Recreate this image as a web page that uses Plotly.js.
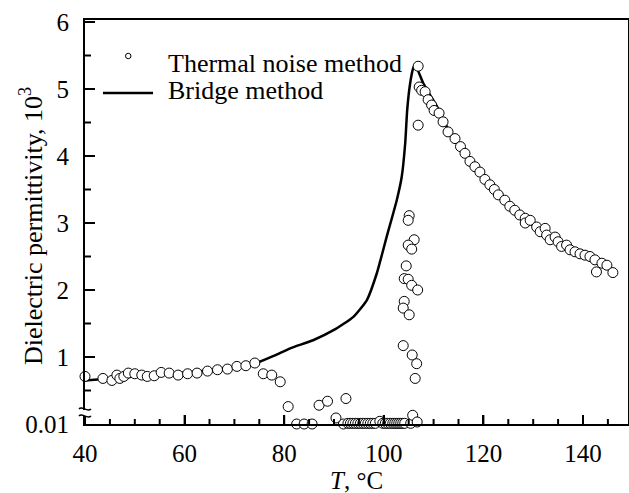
<!DOCTYPE html>
<html>
<head>
<meta charset="utf-8">
<script src="https://cdn.plot.ly/plotly-3.0.1.min.js"></script>
<style>
  html, body { margin: 0; padding: 0; background: #fff; }
  #chart { width: 629px; height: 493px; }
</style>
</head>
<body>
<div id="chart"></div>
<script>
// Bridge method: dielectric permittivity (x10^3) vs temperature, °C
const bridgeT = [40, 45, 50, 55, 60, 65, 70, 74, 78, 81.2, 85.8, 89.9, 93.9, 96.6, 98.6,
  100.6, 102.6, 103.6, 104.3, 104.7, 105.3, 105.9, 106.3, 107.9, 109.3, 110.9, 112, 114,
  116, 118, 120, 122, 124, 126, 128, 130, 132, 134, 136, 138, 140, 142, 144, 145.5];
const bridgeEps = [0.65, 0.68, 0.71, 0.74, 0.77, 0.80, 0.85, 0.90, 1.02, 1.13, 1.25, 1.40, 1.60, 1.85, 2.25,
  2.80, 3.34, 3.69, 4.19, 4.69, 5.09, 5.31, 5.36, 5.09, 4.91, 4.71, 4.53, 4.27,
  4.06, 3.86, 3.68, 3.51, 3.36, 3.21, 3.08, 2.96, 2.85, 2.76, 2.67, 2.58, 2.50, 2.42, 2.36, 2.30];

// Thermal noise method: measured points
const noiseT = [40, 43.6, 45.4, 46.4, 47.0, 47.8, 48.7, 50.0, 51.4, 52.5, 53.9, 55.3, 56.9, 58.7,
  60.6, 62.5, 64.6, 66.6, 68.6, 70.5, 72.3, 74.1, 75.8, 77.5, 79.2, 80.8, 82.5, 84.0, 85.6,
  87.0, 88.7, 90.4, 91.9, 92.4,
  92.8, 93.3, 93.8, 94.3, 94.8, 95.3, 95.8, 96.3, 96.8, 97.3, 97.8, 98.3, 99.2, 99.8, 100.3,
  100.8, 101.3, 101.8, 102.2, 102.6, 103.0, 103.4, 103.8, 104.2, 105.4, 105.8, 106.7,
  103.9, 105.7, 106.6, 106.3, 105.1, 104.9, 106.1, 104.9, 105.6, 104.5, 104.1, 104.9, 105.6,
  106.8, 104.1, 103.9, 105.1,
  106.9, 107.1, 107.6, 108.3, 108.9, 109.6, 110.1, 111.1, 111.9, 112.9, 106.9,
  114.3, 115.4, 116.3, 117.3, 118.3, 119.3, 120.3, 121.3, 122.2, 123.0, 124.3, 125.3, 126.3,
  127.3, 128.4, 128.4, 129.4, 130.7, 131.4, 132.4, 132.7, 133.4, 134.4, 135.0, 135.7, 136.7,
  137.4, 138.4, 139.4, 140.4, 141.4, 142.4, 142.7, 143.8, 144.8, 146.0];
const noiseEps = [0.71, 0.68, 0.65, 0.73, 0.68, 0.71, 0.76, 0.75, 0.73, 0.71, 0.72, 0.77, 0.76, 0.73,
  0.75, 0.76, 0.79, 0.81, 0.82, 0.86, 0.87, 0.91, 0.75, 0.73, 0.63, 0.26, 0.0, 0.0, 0.0,
  0.28, 0.34, 0.09, 0.0, 0.38,
  0.01, 0.01, 0.01, 0.01, 0.01, 0.01, 0.01, 0.01, 0.01, 0.01, 0.01, 0.01, 0.04, 0.01, 0.01,
  0.01, 0.01, 0.01, 0.01, 0.01, 0.01, 0.01, 0.01, 0.01, 0.01, 0.13, 0.03,
  1.17, 1.03, 0.90, 0.68, 3.11, 3.04, 2.75, 2.67, 2.61, 2.36, 2.17, 2.16, 2.07,
  2.00, 1.83, 1.73, 1.63,
  5.34, 5.03, 4.98, 4.96, 4.84, 4.76, 4.68, 4.64, 4.51, 4.36, 4.46,
  4.26, 4.14, 4.04, 3.92, 3.84, 3.76, 3.65, 3.57, 3.50, 3.42, 3.34, 3.25, 3.19,
  3.12, 3.07, 3.00, 3.04, 2.94, 2.87, 2.92, 2.82, 2.75, 2.79, 2.72, 2.65, 2.67,
  2.60, 2.57, 2.54, 2.52, 2.50, 2.45, 2.27, 2.40, 2.37, 2.26];

// Axis ticks
const yTickVals = [0, 1, 2, 3, 4, 5, 6];
const yTickText = ['0.01', '1', '2', '3', '4', '5', '6'];
const xTickVals = [40, 60, 80, 100, 120, 140];
const xMinorVals = [45, 50, 55, 65, 70, 75, 85, 90, 95, 105, 110, 115, 125, 130, 135, 145];
const yMinorVals = [0.5, 1.5, 2.5, 3.5, 4.5, 5.5];

// Titles and legend entries
const xTitle = '<i>T</i>, °C';
const yTitle = 'Dielectric permittivity, 10<sup>3</sup>';
const legendLabels = ['Thermal noise method', 'Bridge method'];

const W = 629, H = 493;
const M = { l: 85, r: 1, t: 20, b: 69 };
const PW = W - M.l - M.r, PH = H - M.t - M.b;
// pixel -> paper helpers for the hand-placed legend and titles
const px = x => (x - M.l) / PW;
const py = y => (H - M.b - y) / PH;

const serif = 'Liberation Serif, Times New Roman, serif';
const ink = '#000';
const pxPerT = 4.98, pxPerEps = 67;
const xRange = [40, 40 + PW / pxPerT];
const yRange = [0, PH / pxPerEps];

const traces = [
  {
    x: bridgeT, y: bridgeEps, type: 'scatter', mode: 'lines',
    line: { color: ink, width: 2.5, shape: 'spline', smoothing: 0.5 },
    hoverinfo: 'skip', showlegend: false
  },
  {
    x: noiseT, y: noiseEps, type: 'scatter', mode: 'markers', cliponaxis: false,
    marker: { symbol: 'circle', size: 10, color: '#fff', line: { color: ink, width: 1 } },
    showlegend: false
  }
];

// inward tick marks as line shapes: data position along the axis, pixel length across it
const tickShapes = [];
function xTick(v, lenPx) {
  tickShapes.push({ type: 'line', xref: 'x', yref: 'paper', ysizemode: 'pixel', yanchor: 0,
    x0: v, x1: v, y0: 0, y1: lenPx, line: { color: ink, width: 2 }, layer: 'above' });
}
function yTick(v, lenPx) {
  tickShapes.push({ type: 'line', xref: 'paper', yref: 'y', xsizemode: 'pixel', xanchor: 0,
    x0: 0, x1: lenPx, y0: v, y1: v, line: { color: ink, width: 2 }, layer: 'above' });
}
xTickVals.forEach(v => xTick(v, 9));
xMinorVals.forEach(v => xTick(v, 5));
yTickVals.filter(v => v > 0).forEach(v => yTick(v, 10));
yMinorVals.forEach(v => yTick(v, 6));

const layout = {
  width: W, height: H,
  margin: M,
  paper_bgcolor: '#fff', plot_bgcolor: '#fff',
  font: { family: serif, size: 25, color: ink },
  showlegend: false,
  xaxis: {
    range: xRange,
    tickmode: 'array', tickvals: xTickVals,
    ticks: 'inside', ticklen: 9, tickwidth: 2, tickcolor: ink,
    showline: true, linecolor: ink, linewidth: 2, mirror: true,
    showgrid: false, zeroline: false,
    ticklabelstandoff: 6,
    tickfont: { family: serif, size: 25, color: ink }
  },
  yaxis: {
    range: yRange,
    tickmode: 'array', tickvals: yTickVals, ticktext: yTickText,
    ticks: 'inside', ticklen: 10, tickwidth: 2, tickcolor: ink,
    showline: true, linecolor: ink, linewidth: 2, mirror: true,
    showgrid: false, zeroline: false,
    ticklabelstandoff: 9,
    tickfont: { family: serif, size: 25, color: ink }
  },
  shapes: tickShapes.concat([
    // legend line sample
    { type: 'line', xref: 'paper', yref: 'paper', x0: px(103), x1: px(153), y0: py(93), y1: py(93),
      line: { color: ink, width: 2.5 } },
    // legend circle sample
    { type: 'circle', xref: 'paper', yref: 'paper', x0: px(125.5), x1: px(131), y0: py(53.3), y1: py(58.7),
      line: { color: ink, width: 1 }, fillcolor: '#fff' },
    // axis break: gap in the y axis line
    { type: 'rect', xref: 'paper', yref: 'paper', xsizemode: 'pixel', ysizemode: 'pixel',
      xanchor: 0, yanchor: py(413), x0: -3, x1: 3, y0: -3, y1: 3,
      line: { width: 0 }, fillcolor: '#fff', layer: 'above' },
    // axis break: two wavy strokes
    { type: 'path', xref: 'paper', yref: 'paper', xsizemode: 'pixel', ysizemode: 'pixel',
      xanchor: 0, yanchor: py(413),
      path: 'M-6,4 C-3,8 2,0 6,4 M-6,-3 C-3,1 2,-7 6,-3',
      line: { color: ink, width: 1.5 }, layer: 'above' }
  ]),
  annotations: [
    { xref: 'paper', yref: 'paper', x: px(166), y: py(64), xanchor: 'left', yanchor: 'middle',
      text: legendLabels[0], showarrow: false, font: { family: serif, size: 26, color: ink } },
    { xref: 'paper', yref: 'paper', x: px(166), y: py(90), xanchor: 'left', yanchor: 'middle',
      text: legendLabels[1], showarrow: false, font: { family: serif, size: 26, color: ink } },
    // axis titles
    { xref: 'paper', yref: 'paper', x: px(356), y: py(481), xanchor: 'center', yanchor: 'middle',
      text: xTitle, showarrow: false, font: { family: serif, size: 25, color: ink } },
    { xref: 'paper', yref: 'paper', x: px(31), y: py(226), xanchor: 'center', yanchor: 'middle',
      textangle: -90, text: yTitle, showarrow: false, font: { family: serif, size: 26, color: ink } }
  ]
};

Plotly.newPlot('chart', traces, layout, { displayModeBar: false, staticPlot: true });
</script>
</body>
</html>
